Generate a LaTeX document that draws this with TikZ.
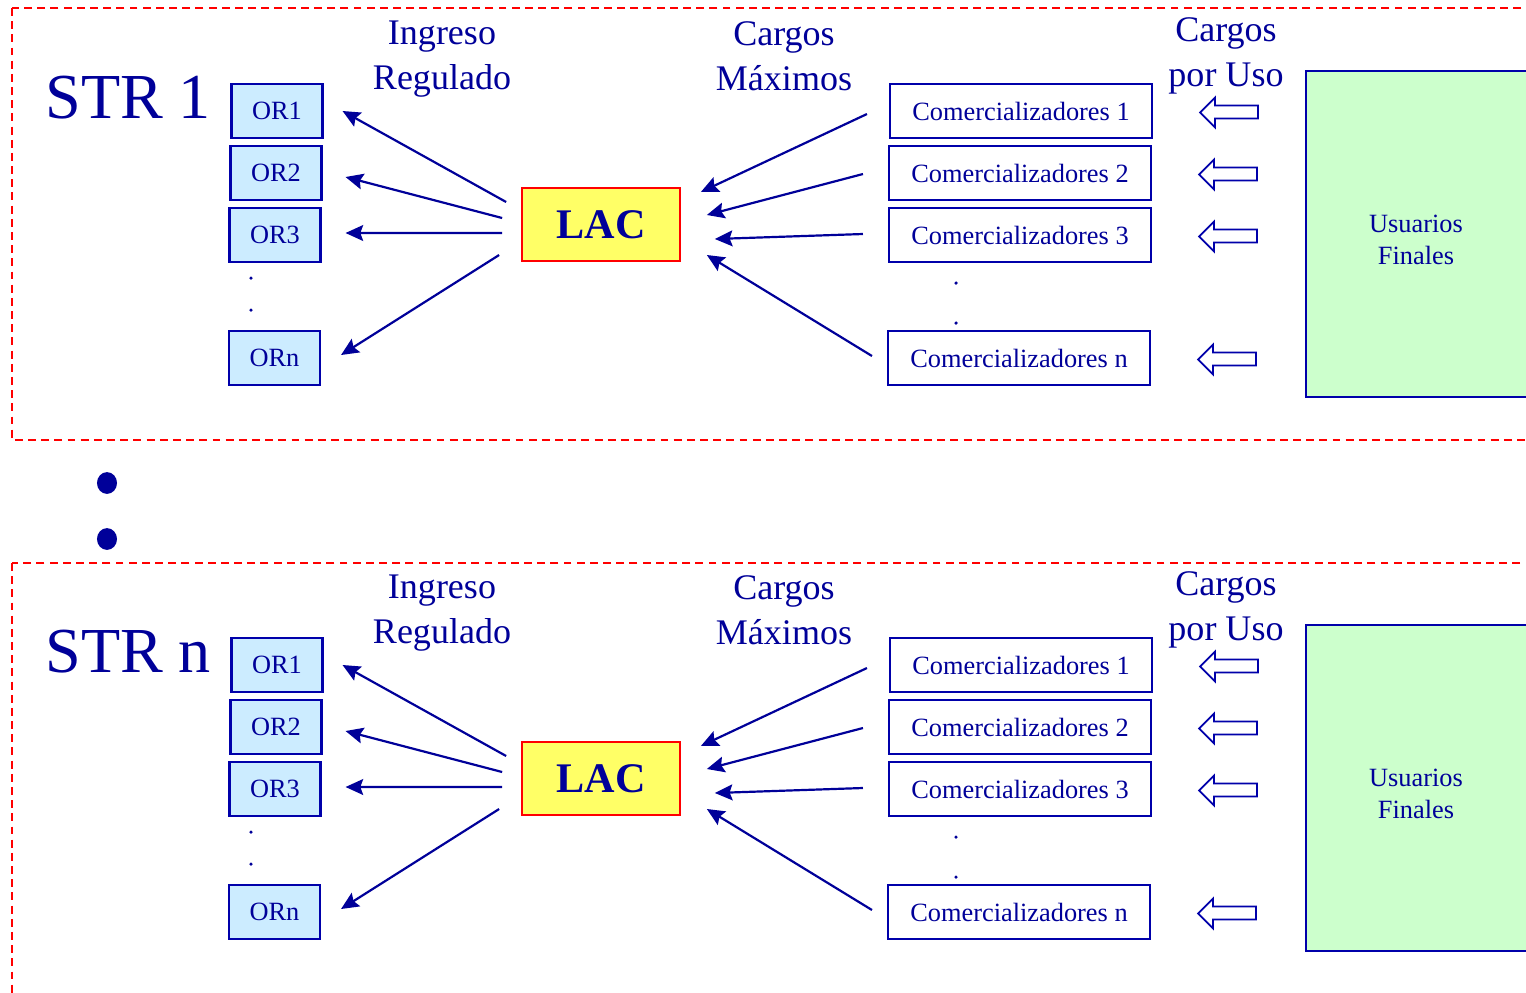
\documentclass[tikz,border=0pt]{standalone}
\usepackage{fontspec}
\setmainfont{Liberation Serif}
\usepackage{xcolor}
\usetikzlibrary{arrows.meta,positioning,calc}

\definecolor{txtblue}{RGB}{0,0,153}
\definecolor{lineblue}{RGB}{0,0,170}
\definecolor{orfill}{RGB}{204,236,255}
\definecolor{lacfill}{RGB}{255,255,102}
\definecolor{usrfill}{RGB}{204,255,204}

\begin{document}
\begin{tikzpicture}[x=0.02cm, y=-0.02cm, >={Stealth[length=10pt,width=9pt,inset=1.6pt]},
    orbox/.style={draw=lineblue, fill=orfill, line width=1.2pt, minimum width=1.82cm, minimum height=1.08cm, inner sep=0pt, text=txtblue, font=\fontsize{15}{18}\selectfont},
    combox/.style={draw=lineblue, fill=white, line width=1.2pt, minimum width=5.24cm, minimum height=1.08cm, inner sep=0pt, text=txtblue, font=\fontsize{15}{18}\selectfont},
    lacbox/.style={draw=red, fill=lacfill, line width=1pt, minimum width=3.16cm, minimum height=1.46cm, inner sep=0pt, text=txtblue, font=\fontsize{24}{28}\selectfont\bfseries},
    usrbox/.style={draw=lineblue, fill=usrfill, line width=1.2pt, minimum width=4.8cm, minimum height=6.52cm, inner sep=0pt},
    head/.style={text=txtblue, align=center, font=\fontsize{20.5}{25.5}\selectfont},
    flow/.style={->, draw=txtblue, line width=1.25pt},
    hollow/.style={draw=lineblue, fill=white, line width=1pt},
    panel/.style={draw=red, line width=0.9pt, dash pattern=on 4.5pt off 3pt}]
    \useasboundingbox (0,0) rectangle (1526,992);
    \clip (0,0) rectangle (1526,992);

    % dashed frames of the two systems
    \draw[panel] (12,8) rectangle (1560,440);
    \draw[panel] (12,563) rectangle (1560,1100);

    % dots between the systems
    \fill[txtblue] (107,483) ellipse (5.7pt and 6.2pt);
    \fill[txtblue] (107,539) ellipse (5.7pt and 6.2pt);

    \foreach \p/\s/\yoff in {a/1/0, b/n/554}{
        % titles
        \node[anchor=base west, inner sep=0pt, text=txtblue, font=\fontsize{36.5}{40}\selectfont] (str-\p) at (45,{118+\yoff}) {STR \s};
        \node[head] (ing-\p) at (442,{59+\yoff}) {Ingreso\\Regulado};
        \node[head] (max-\p) at (784,{56+\yoff}) {Cargos\\Máximos};
        \node[head] (uso-\p) at (1226,{56+\yoff}) {Cargos\\por Uso};

        % network operators
        \node[orbox] (or1-\p) at (277,{111+\yoff}) {OR1};
        \node[orbox] (or2-\p) at (276,{173+\yoff}) {OR2};
        \node[orbox] (or3-\p) at (275,{235+\yoff}) {OR3};
        \node[orbox] (orn-\p) at (274.5,{358+\yoff}) {ORn};
        \fill[txtblue] (251,{278+\yoff}) circle (1pt);
        \fill[txtblue] (251,{310+\yoff}) circle (1pt);

        % LAC
        \node[lacbox] (lac-\p) at (601,{224.5+\yoff}) {LAC};

        % retailers
        \node[combox] (c1-\p) at (1021,{111+\yoff}) {Comercializadores 1};
        \node[combox] (c2-\p) at (1020,{173+\yoff}) {Comercializadores 2};
        \node[combox] (c3-\p) at (1020,{235+\yoff}) {Comercializadores 3};
        \node[combox] (cn-\p) at (1019,{358+\yoff}) {Comercializadores n};
        \fill[txtblue] (956,{283+\yoff}) circle (1pt);
        \fill[txtblue] (956,{323+\yoff}) circle (1pt);

        % end users
        \node[usrbox, anchor=north west] (usr-\p) at (1305,{70+\yoff}) {};
        \node[text=txtblue, align=center, font=\fontsize{15}{18}\selectfont] (usrtxt-\p) at (1416,{240+\yoff}) {Usuarios\\Finales};

        % LAC -> OR
        \foreach \n/\sx/\sy/\ex/\ey in {1/-15/-22.5/19/0, 2/-19/-6.5/23/4, 3/-19/8.5/24/-2, n/-22/30.5/20/-3}
            \draw[flow] ($(lac-\p.west)+(\sx,\sy)$) -- ($(or\n-\p.east)+(\ex,\ey)$);

        % retailers -> LAC
        \foreach \n/\sx/\sy/\ex/\ey in {1/-22/3/20/-32.5, 2/-25/1/26/-9.5, 3/-25/-1/34/14.5, n/-15/-2/26/30.5}
            \draw[flow] ($(c\n-\p.west)+(\sx,\sy)$) -- ($(lac-\p.east)+(\ex,\ey)$);

        % charges for use
        \foreach \n in {1,2,3,n}
            \draw[hollow] ($(c\n-\p.east)+(47,1.5)$) -- ++(15,-15) -- ++(0,8) -- ++(43,0) -- ++(0,13) -- ++(-43,0) -- ++(0,9) -- cycle;
    }
\end{tikzpicture}
\end{document}
